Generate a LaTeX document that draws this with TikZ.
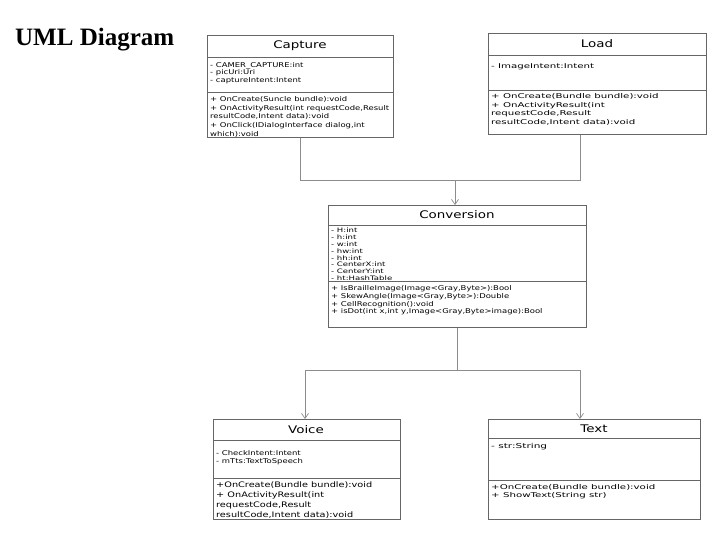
\documentclass[tikz,border=0pt]{standalone}
\usepackage{fontspec}
\setmainfont{Liberation Serif}
\newfontfamily\umlf{DejaVu Sans}
\newfontfamily\umlA[FakeStretch=1.28]{DejaVu Sans}
\newfontfamily\umlB[FakeStretch=1.4]{DejaVu Sans}
\newfontfamily\umlC[FakeStretch=1.55]{DejaVu Sans}
\usetikzlibrary{arrows.meta}
\begin{document}
\begin{tikzpicture}[x=1pt,y=-1pt,
  cls/.style={draw=black!60,line width=0.6pt,anchor=north west,inner sep=0pt},
  ttl/.style={font=\umlA\fontsize{10.5}{13}\selectfont,anchor=center},
  mem/.style={font=\umlA\fontsize{6.6}{8.8}\selectfont,anchor=north west,align=left,inner sep=0pt},
  conn/.style={draw=black!45,line width=0.7pt},
  arr/.style={conn,-{Straight Barb[length=5pt,width=7pt]}}]
\useasboundingbox (0,0) rectangle (720,540);
\node[font=\bfseries\fontsize{25}{28}\selectfont,anchor=west,inner sep=0pt] (hdr) at (15,40) {UML Diagram};
% Capture
\node[cls,minimum width=186pt,minimum height=102pt] (cap) at (207,35) {};
\draw[black!60] (207,57) -- (393,57) (207,92) -- (393,92);
\node[ttl] (capt) at (300,46) {Capture};
\node[mem,font=\umlA\fontsize{6.6}{7.4}\selectfont] (capa) at (210,62) {- CAMER\_CAPTURE:int\\- picUri:Uri\\- captureIntent:Intent};
\node[mem] (capm) at (210,96) {+ OnCreate(Suncle bundle):void\\+ OnActivityResult(int requestCode,Result\\resultCode,Intent data):void\\+ OnClick(IDialogInterface dialog,int\\which):void};
% Load
\node[cls,minimum width=218pt,minimum height=101pt] (load) at (488,33) {};
\draw[black!60] (488,55) -- (706,55) (488,90) -- (706,90);
\node[ttl] (loadt) at (597,44) {Load};
\node[mem,font=\umlC\fontsize{6.6}{8.8}\selectfont] (loada) at (491,63) {- ImageIntent:Intent};
\node[mem,font=\umlC\fontsize{6.6}{8.8}\selectfont] (loadm) at (491,93) {+ OnCreate(Bundle bundle):void\\+ OnActivityResult(int\\requestCode,Result\\resultCode,Intent data):void};
% Conversion
\node[cls,minimum width=258pt,minimum height=122pt] (conv) at (328,205) {};
\draw[black!60] (328,225) -- (586,225) (328,281) -- (586,281);
\node[ttl] (convt) at (457,215) {Conversion};
\node[mem,font=\umlB\fontsize{6.1}{6.8}\selectfont] (conva) at (331,228) {- H:int\\- h:int\\- w:int\\- hw:int\\- hh:int\\- CenterX:int\\- CenterY:int\\- ht:HashTable};
\node[mem,font=\umlA\fontsize{6.6}{7.9}\selectfont] (convm) at (331,285) {+ IsBrailleImage(Image<Gray,Byte>):Bool\\+ SkewAngle(Image<Gray,Byte>):Double\\+ CellRecognition():void\\+ isDot(int x,int y,Image<Gray,Byte>image):Bool};
% Voice
\node[cls,minimum width=187pt,minimum height=100pt] (voice) at (213,419) {};
\draw[black!60] (213,440) -- (400,440) (213,478) -- (400,478);
\node[ttl] (voicet) at (306,430) {Voice};
\node[mem,font=\umlA\fontsize{6.6}{8}\selectfont] (voicea) at (216,450) {- CheckIntent:Intent\\- mTts:TextToSpeech};
\node[mem,font=\umlA\fontsize{7.6}{9.8}\selectfont] (voicem) at (216,482) {+OnCreate(Bundle bundle):void\\+ OnActivityResult(int\\requestCode,Result\\resultCode,Intent data):void};
% Text
\node[cls,minimum width=212pt,minimum height=100pt] (text) at (488,419) {};
\draw[black!60] (488,438) -- (700,438) (488,480) -- (700,480);
\node[ttl] (textt) at (594,429) {Text};
\node[mem,font=\umlC\fontsize{6.8}{8}\selectfont] (texta) at (491,443) {- str:String};
\node[mem,font=\umlC\fontsize{6.6}{8.4}\selectfont] (textm) at (491,484) {+OnCreate(Bundle bundle):void\\+ ShowText(String str)};
% connectors
\coordinate (j1) at (300,180);
\coordinate (j2) at (580,180);
\coordinate (j3) at (455,180);
\draw[conn] (cap.south -| j1) -- (j1) -- (j2) -- (load.south -| j2);
\draw[arr] (j3) -- (conv.north -| j3);
\coordinate (k1) at (457,370);
\coordinate (k2) at (305,370);
\coordinate (k3) at (580,370);
\draw[conn] (conv.south -| k1) -- (k1);
\draw[conn] (k2) -- (k3);
\draw[arr] (k2) -- (voice.north -| k2);
\draw[arr] (k3) -- (text.north -| k3);
\end{tikzpicture}
\end{document}
